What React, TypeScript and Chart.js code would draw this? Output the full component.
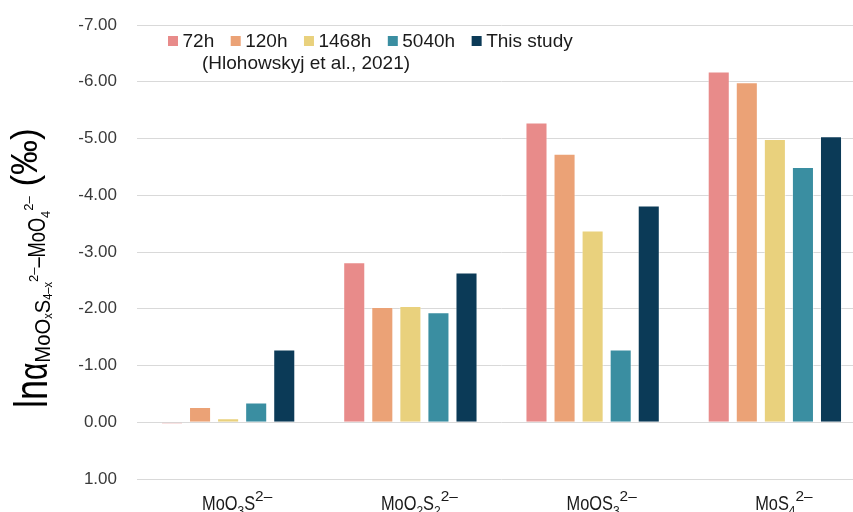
import React, { useEffect, useRef } from 'react';
import { Chart, registerables } from 'chart.js';

Chart.register(...registerables);

// ---------- data ----------
const categories = ['MoO_3S^{2–}', 'MoO_2S_2^{2–}', 'MoOS_3^{2–}', 'MoS_4^{2–}'];
const seriesLabels = ['72h', '120h', '1468h', '5040h', 'This study'];
const values72h = [0.03, -2.82, -5.28, -6.18];
const values120h = [-0.27, -2.03, -4.73, -5.99];
const values1468h = [-0.07, -2.05, -3.38, -4.99];
const values5040h = [-0.35, -1.94, -1.28, -4.5];
const valuesThisStudy = [-1.28, -2.64, -3.82, -5.04];
const seriesValues = [values72h, values120h, values1468h, values5040h, valuesThisStudy];
const seriesColors = ['#E88B8A', '#EBA276', '#E9D17D', '#3A8EA1', '#0B3A57'];
const yMin = -7;
const yMax = 1;
const yStep = 1;
const legendNote = '(Hlohowskyj et al., 2021)';
// y axis title pieces: [text, style kind]
const titleParts: [string, string][] = [
  ['ln', 'main'],
  ['α', 'alpha'],
  ['MoO', 'sub'],
  ['x', 'subsub'],
  ['S', 'sub'],
  ['4–x', 'subsub'],
  ['2–', 'sup1'],
  ['–MoO', 'mid'],
  ['4', 'midsub'],
  ['2–', 'sup2'],
  [' (‰)', 'pct'],
];

// ---------- styles ----------
const FONT = "'Liberation Sans', Arial, sans-serif";
const CANVAS_W = 880;
const CANVAS_H = 530;
const titleStyle: Record<string, { size: number; dy: number; sx: number }> = {
  main: { size: 46, dy: 0, sx: 0.78 },
  alpha: { size: 40, dy: 0, sx: 0.75 },
  sub: { size: 22, dy: 3.5, sx: 0.92 },
  subsub: { size: 13, dy: 5, sx: 0.85 },
  sup1: { size: 13, dy: -9, sx: 1 },
  mid: { size: 24, dy: -1.5, sx: 0.76 },
  midsub: { size: 13, dy: 3, sx: 1 },
  sup2: { size: 13, dy: -14, sx: 1 },
  pct: { size: 36, dy: -10, sx: 0.97 },
};
const labelStyle: Record<string, { size: number; dy: number; sx: number }> = {
  n: { size: 21, dy: 0, sx: 0.78 },
  sub: { size: 12, dy: 5, sx: 1 },
  sup: { size: 14, dy: -9, sx: 1.1 },
};

function parseMarkup(s: string): [string, string][] {
  const out: [string, string][] = [];
  let i = 0;
  let buf = '';
  const flush = () => {
    if (buf) out.push([buf, 'n']);
    buf = '';
  };
  while (i < s.length) {
    const c = s[i];
    if (c === '_' || c === '^') {
      flush();
      const kind = c === '_' ? 'sub' : 'sup';
      let txt = '';
      if (s[i + 1] === '{') {
        const end = s.indexOf('}', i + 2);
        txt = s.slice(i + 2, end);
        i = end + 1;
      } else {
        txt = s[i + 1];
        i += 2;
      }
      out.push([txt, kind]);
    } else {
      buf += c;
      i++;
    }
  }
  flush();
  return out;
}

function drawParts(
  ctx: CanvasRenderingContext2D,
  parts: [string, string][],
  styles: Record<string, { size: number; dy: number; sx: number }>,
  measureOnly: boolean
): number {
  let pos = 0;
  for (const [t, k] of parts) {
    const st = styles[k];
    ctx.font = `${st.size}px ${FONT}`;
    const w = ctx.measureText(t).width * st.sx;
    if (!measureOnly) {
      ctx.save();
      ctx.translate(pos, st.dy);
      ctx.scale(st.sx, 1);
      ctx.fillText(t, 0, 0);
      ctx.restore();
    }
    pos += w;
  }
  return pos;
}

const textPlugin = {
  id: 'customText',
  afterDraw(chart: any) {
    const ctx: CanvasRenderingContext2D = chart.ctx;
    const xScale = chart.scales.x;
    ctx.save();
    ctx.textAlign = 'left';
    ctx.textBaseline = 'alphabetic';

    // y-axis title (rotated)
    ctx.fillStyle = '#000000';
    ctx.save();
    ctx.translate(46.5, 408);
    ctx.rotate(-Math.PI / 2);
    drawParts(ctx, titleParts, titleStyle, false);
    ctx.restore();

    // category labels
    ctx.fillStyle = '#1a1a1a';
    categories.forEach((c, i) => {
      const parts = parseMarkup(c);
      const w = drawParts(ctx, parts, labelStyle, true);
      const cx = xScale.getPixelForValue(i) + 9;
      ctx.save();
      ctx.translate(cx - w / 2, 510);
      drawParts(ctx, parts, labelStyle, false);
      ctx.restore();
    });

    // legend
    ctx.font = `19px ${FONT}`;
    ctx.textBaseline = 'middle';
    let x = 168;
    const y1 = 41;
    chart.data.datasets.forEach((ds: any) => {
      ctx.fillStyle = ds.backgroundColor;
      ctx.fillRect(x, y1 - 5, 10, 10);
      x += 14.5;
      ctx.fillStyle = '#1a1a1a';
      ctx.fillText(ds.label, x, y1 + 1);
      x += ctx.measureText(ds.label).width + 16.5;
    });
    ctx.fillStyle = '#1a1a1a';
    ctx.fillText(legendNote, 202, 64);
    ctx.restore();
  },
};

export default function App() {
  const ref = useRef<HTMLCanvasElement | null>(null);
  useEffect(() => {
    if (!ref.current) return;
    const chart = new Chart(ref.current, {
      type: 'bar',
      data: {
        labels: categories,
        datasets: seriesLabels.map((label, i) => ({
          label,
          data: seriesValues[i],
          backgroundColor: seriesColors[i],
          borderColor: 'rgba(255,255,255,0.45)',
          borderWidth: 1,
          barPercentage: 0.786,
          categoryPercentage: 0.77,
        })),
      },
      options: {
        responsive: false,
        animation: false,
        devicePixelRatio: 1,
        layout: { padding: { top: 25, right: CANVAS_W - 866, left: 0, bottom: 0 } },
        plugins: {
          legend: { display: false },
          tooltip: { enabled: false },
        },
        scales: {
          x: {
            grid: { display: false },
            border: { display: false },
            ticks: { display: false },
            afterFit: (s: any) => {
              s.height = CANVAS_H - 479;
            },
          },
          y: {
            reverse: true,
            min: yMin,
            max: yMax,
            grid: { color: '#d9d9d9', lineWidth: 1, drawTicks: false },
            border: { display: false },
            ticks: {
              stepSize: yStep,
              padding: 20,
              color: '#3a3a3a',
              font: { family: FONT, size: 17 },
              callback: (v: any) => Number(v).toFixed(2),
            },
            afterFit: (s: any) => {
              s.width = 137;
              s.paddingTop = 10;
              s.paddingBottom = 10;
            },
          },
        },
      },
      plugins: [textPlugin],
    });
    return () => chart.destroy();
  }, []);
  return (
    <div
      style={{
        position: 'fixed',
        left: 0,
        top: 0,
        width: 853,
        height: 512,
        overflow: 'hidden',
        background: '#ffffff',
      }}
    >
      <canvas ref={ref} width={CANVAS_W} height={CANVAS_H} style={{ display: 'block' }} />
    </div>
  );
}
